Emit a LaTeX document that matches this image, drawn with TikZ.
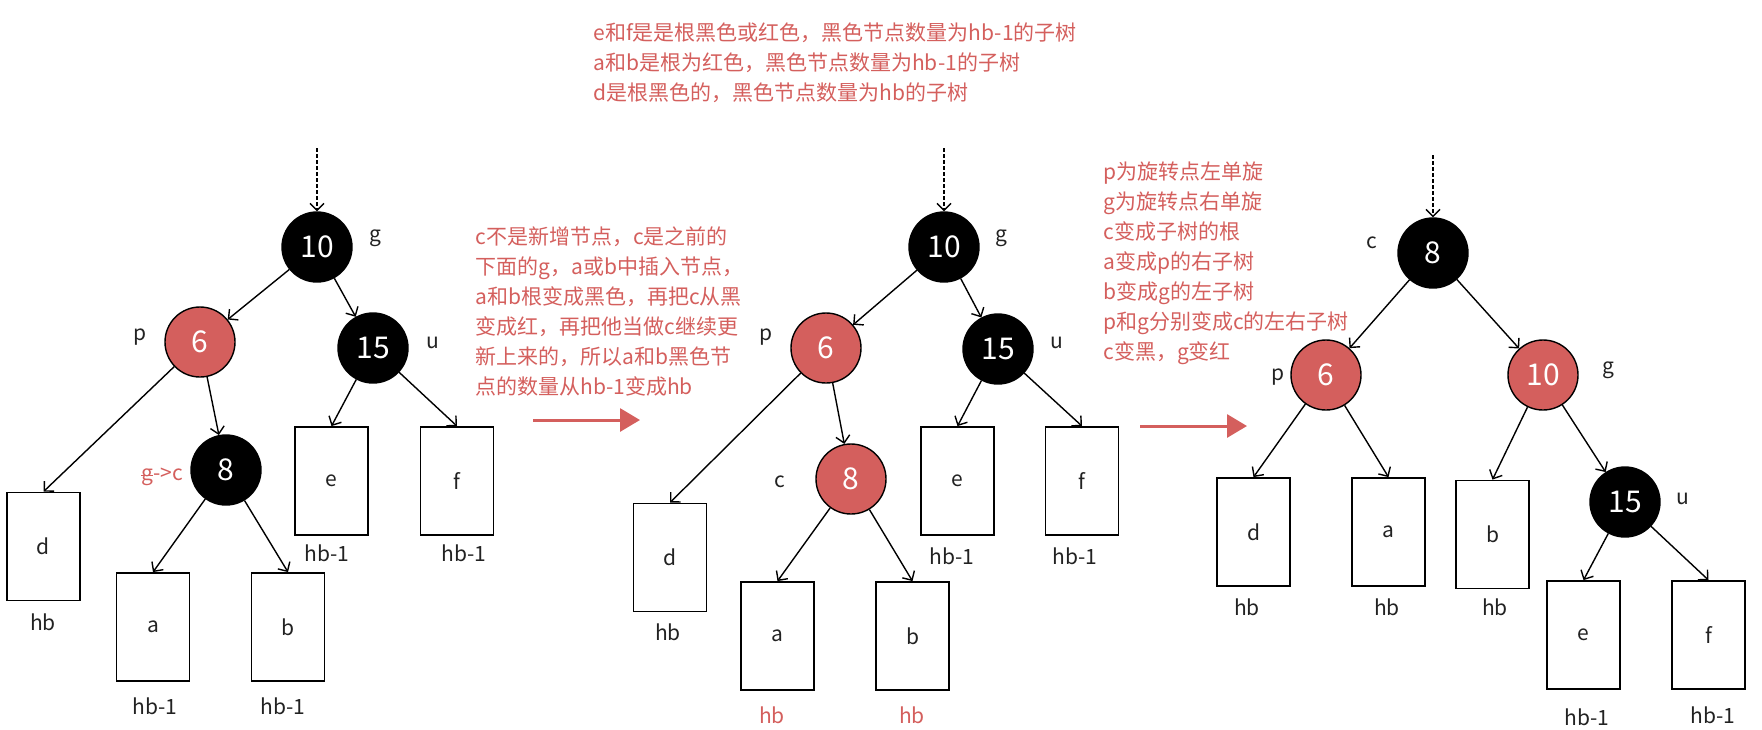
\documentclass[tikz,border=0pt]{standalone}
\usepackage{fontspec}
\setmainfont{Noto Sans CJK SC}
\usepackage{xcolor}
\definecolor{rbred}{HTML}{D45F5D}
\definecolor{rbink}{HTML}{222222}
\usepackage{tikz}
\usetikzlibrary{arrows.meta,positioning}
\newcommand\rbcross[1]{\makebox[0pt][l]{\rule[0.2em]{0.56em}{0.08em}}#1}
\tikzset{
  rbblack/.style={circle,draw=black,fill=black,text=white,minimum size=35pt,inner sep=0pt,line width=0.7pt,font=\fontsize{15}{15}\selectfont},
  rbredn/.style={circle,draw=black,fill=rbred,text=white,minimum size=35pt,inner sep=0pt,line width=0.7pt,font=\fontsize{15}{15}\selectfont},
  rbbox/.style={draw=black,minimum width=36.5pt,minimum height=54pt,inner sep=0pt,line width=0.9pt,text=rbink,font=\fontsize{10.5}{12}\selectfont},
  rbtag/.style={inner sep=0pt,text=rbink,font=\fontsize{10.5}{12}\selectfont},
  rbnote/.style={inner sep=0pt,anchor=west,align=left,text=rbred,font=\fontsize{10.5}{15}\selectfont},
  rbedge/.style={-{Straight Barb[length=3.5pt,width=7pt]},line width=0.7pt},
  rbfeed/.style={rbedge,dash pattern=on 2pt off 1pt},
  rbbig/.style={-{Triangle[length=10pt,width=11.5pt]},line width=1.5pt,draw=rbred},
}
\begin{document}
\begin{tikzpicture}[x=0.5pt,y=-0.5pt]
\useasboundingbox (0,0) rectangle (1762,729);
% notes
\node[rbnote](n1) at (593,63){e和f是是根黑色或红色，黑色节点数量为hb-1的子树\\a和b是根为红色，黑色节点数量为hb-1的子树\\d是根黑色的，黑色节点数量为hb的子树};
\node[rbnote](n2) at (475,312){c不是新增节点，c是之前的\\下面的g，a或b中插入节点，\\a和b根变成黑色，再把c从黑\\变成红，再把他当做c继续更\\新上来的，所以a和b黑色节\\点的数量从hb-1变成hb};
\node[rbnote](n3) at (1103,263){p为旋转点左单旋\\g为旋转点右单旋\\c变成子树的根\\a变成p的右子树\\b变成g的左子树\\p和g分别变成c的左右子树\\c变黑，g变红};
% big arrows
\coordinate (s1) at (533,420);
\coordinate (t1) at (640,420);
\coordinate (s2) at (1140,426);
\coordinate (t2) at (1247,426);
\draw[rbbig](s1)--(t1);
\draw[rbbig](s2)--(t2);

% tree 1
\node[rbblack](g1) at (317,247){10};
\node[rbredn](p1) at (200,342){6};
\node[rbblack](u1) at (373,348){15};
\node[rbblack](c1) at (226,470){8};
\node[rbbox](d1) at (43.5,546.5){d};
\node[rbbox](e1) at (331.5,481){e};
\node[rbbox](f1) at (457,481){f};
\node[rbbox](a1) at (153,627){a};
\node[rbbox](b1) at (288,627){b};
\coordinate (in1) at (317,148);
\node[rbtag](gt1) at (375,238){g};
\node[rbtag](pt1) at (140,337){p};
\node[rbtag](ut1) at (433,343){u};
\node[rbtag,text=rbred](ct1) at (162,477){\rbcross{g}->c};
\node[rbtag](hd1) at (43,622){hb};
\node[rbtag](he1) at (327,553){hb-1};
\node[rbtag](hf1) at (464,553){hb-1};
\node[rbtag](ha1) at (155,706){hb-1};
\node[rbtag](hb1) at (283,706){hb-1};
\draw[rbfeed](in1)--(g1);
\draw[rbedge](g1)--(p1);
\draw[rbedge](g1)--(u1);
\draw[rbedge](p1)--(d1.north);
\draw[rbedge](p1)--(c1);
\draw[rbedge](c1)--(a1.north);
\draw[rbedge](c1)--(b1.north);
\draw[rbedge](u1)--(e1.north);
\draw[rbedge](u1)--(f1.north);

% tree 2
\node[rbblack](g2) at (944,247){10};
\node[rbredn](p2) at (826,348){6};
\node[rbblack](u2) at (998,349){15};
\node[rbredn](c2) at (851,479){8};
\node[rbbox](d2) at (670,557.5){d};
\node[rbbox](e2) at (957.5,481){e};
\node[rbbox](f2) at (1082,481){f};
\node[rbbox](a2) at (777.5,636){a};
\node[rbbox](b2) at (912.5,636){b};
\coordinate (in2) at (944,148);
\node[rbtag](gt2) at (1001,238){g};
\node[rbtag](pt2) at (766,337){p};
\node[rbtag](ut2) at (1057,343){u};
\node[rbtag](ct2) at (780,482){c};
\node[rbtag](hd2) at (668,632){hb};
\node[rbtag](he2) at (952,556){hb-1};
\node[rbtag](hf2) at (1075,556){hb-1};
\node[rbtag,text=rbred](ha2) at (772,715){hb};
\node[rbtag,text=rbred](hb2) at (912,715){hb};
\draw[rbfeed](in2)--(g2);
\draw[rbedge](g2)--(p2);
\draw[rbedge](g2)--(u2);
\draw[rbedge](p2)--(d2.north);
\draw[rbedge](p2)--(c2);
\draw[rbedge](c2)--(a2.north);
\draw[rbedge](c2)--(b2.north);
\draw[rbedge](u2)--(e2.north);
\draw[rbedge](u2)--(f2.north);

% tree 3
\node[rbblack](c3) at (1433,253){8};
\node[rbredn](p3) at (1326,375){6};
\node[rbredn](g3) at (1543,375){10};
\node[rbblack](u3) at (1625,502){15};
\node[rbbox](d3) at (1253.5,532){d};
\node[rbbox](a3) at (1388.5,532){a};
\node[rbbox](b3) at (1492.5,534.5){b};
\node[rbbox](e3) at (1583.5,635){e};
\node[rbbox](f3) at (1708.5,635){f};
\coordinate (in3) at (1433,155);
\node[rbtag](ct3) at (1372,243){c};
\node[rbtag](pt3) at (1278,377){p};
\node[rbtag](gt3) at (1608,370){g};
\node[rbtag](ut3) at (1683,499){u};
\node[rbtag](hd3) at (1247,607){hb};
\node[rbtag](ha3) at (1387,607){hb};
\node[rbtag](hb3) at (1495,607){hb};
\node[rbtag](he3) at (1587,717){hb-1};
\node[rbtag](hf3) at (1713,715){hb-1};
\draw[rbfeed](in3)--(c3);
\draw[rbedge](c3)--(p3);
\draw[rbedge](c3)--(g3);
\draw[rbedge](p3)--(d3.north);
\draw[rbedge](p3)--(a3.north);
\draw[rbedge](g3)--(b3.north);
\draw[rbedge](g3)--(u3);
\draw[rbedge](u3)--(e3.north);
\draw[rbedge](u3)--(f3.north);
\end{tikzpicture}
\end{document}
